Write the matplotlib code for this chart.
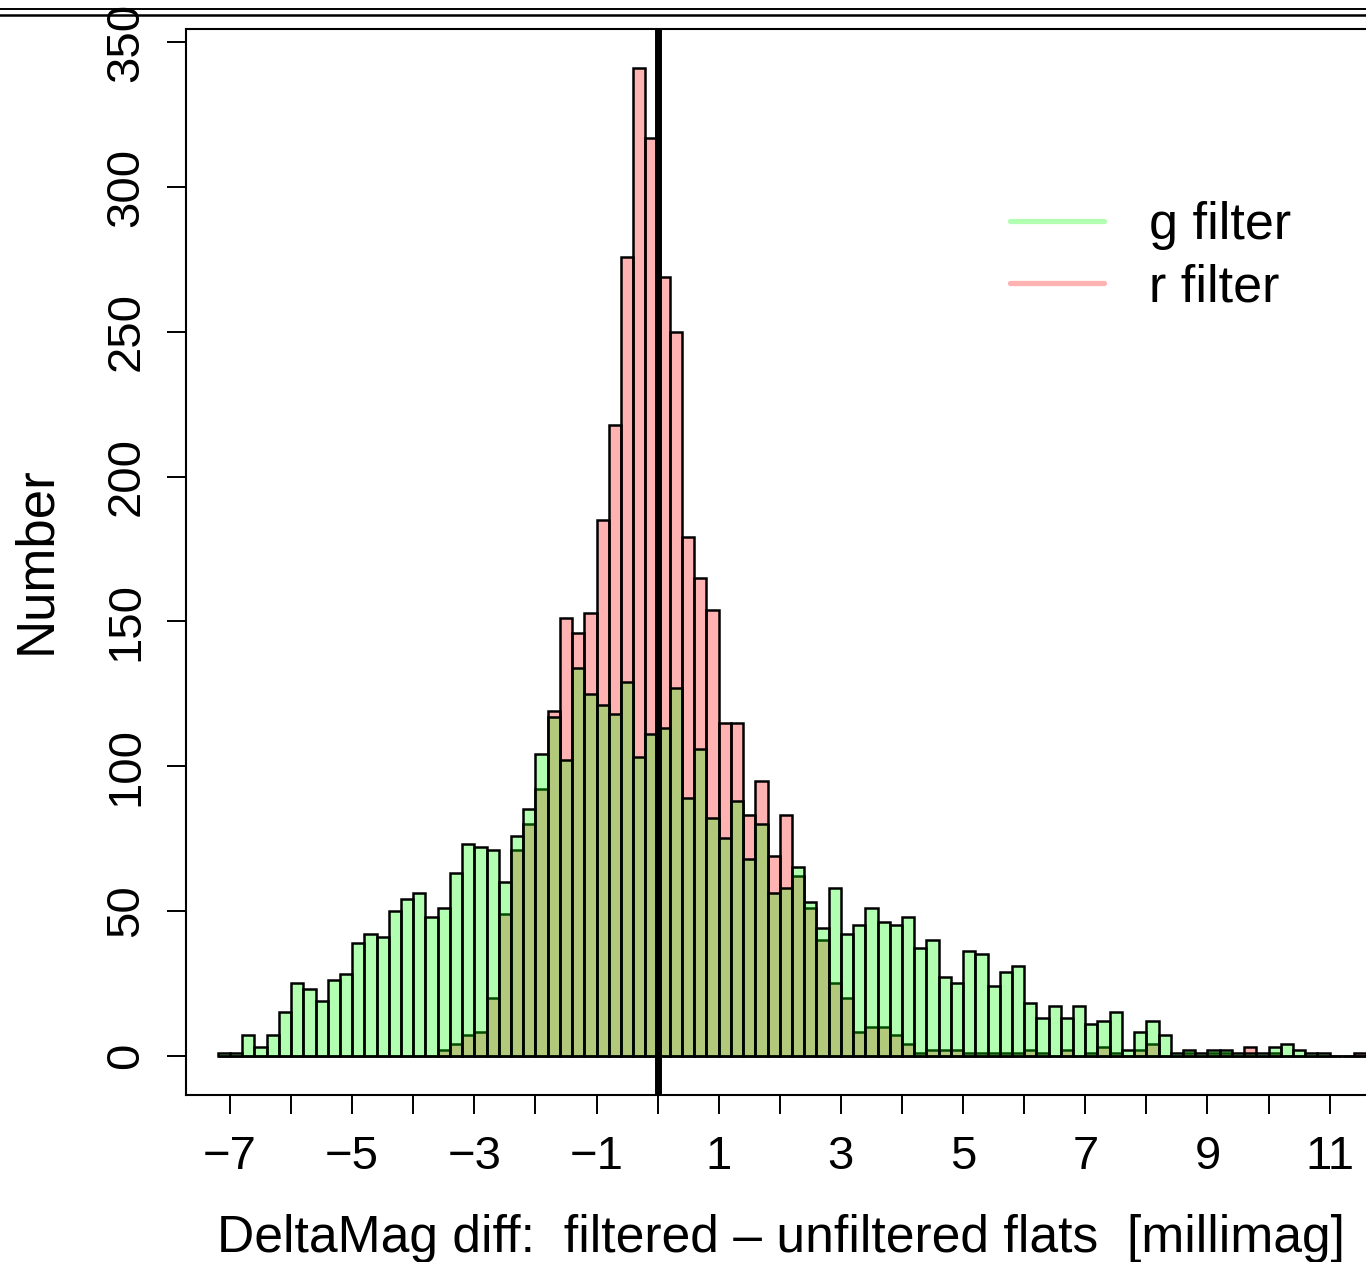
import numpy as np
import matplotlib
matplotlib.use("Agg")
import matplotlib.pyplot as plt
from matplotlib.lines import Line2D

plt.rcParams['font.family'] = ['Liberation Sans', 'DejaVu Sans']

# ---- data (counts per 0.2 millimag bin, bins start at -7.2) ----
bin_width = 0.2
bin_start = -7.2
g_counts = [1, 1, 7, 3, 7, 15, 25, 23, 19, 26, 28, 39, 42, 41, 50, 54, 56, 48,
            51, 63, 73, 72, 71, 60, 76, 85, 104, 117, 102, 134, 125, 121, 118,
            129, 103, 111, 113, 127, 89, 106, 82, 75, 88, 68, 80, 56, 58, 65,
            53, 44, 58, 42, 45, 51, 46, 45, 48, 37, 40, 27, 25, 36, 35, 24, 29,
            31, 18, 13, 17, 13, 17, 11, 12, 15, 2, 8, 12, 7, 1, 2, 1, 2, 2, 1,
            1, 1, 3, 4, 2, 1, 1, 0, 0, 0]
r_counts = [0, 0, 0, 0, 0, 0, 0, 0, 0, 0, 0, 0, 0, 0, 0, 0, 0, 0,
            2, 4, 7, 8, 20, 49, 71, 80, 92, 119, 151, 146, 153, 185, 218,
            276, 341, 317, 269, 250, 179, 165, 154, 115, 115, 83, 95, 69, 83, 62,
            51, 40, 25, 20, 8, 10, 10, 7, 4, 1, 2, 2, 2, 1, 1, 1, 1,
            1, 2, 1, 0, 2, 0, 1, 3, 1, 0, 2, 4, 0, 0, 1, 0, 1, 1, 0,
            3, 0, 1, 0, 0, 0, 0, 0, 0, 1]
labels = ["g filter", "r filter"]
x_ticks = list(range(-7, 12))
x_ticklabels = [("\u2212%d" % -t if t < 0 else "%d" % t) if t % 2 != 0 else "" for t in x_ticks]
y_ticks = [0, 50, 100, 150, 200, 250, 300, 350]
xlabel = "DeltaMag diff:  filtered \u2013 unfiltered flats  [millimag]"
ylabel = "Number"

edges = bin_start + bin_width * np.arange(len(g_counts))

W, H = 1366, 1262
fig = plt.figure(figsize=(W / 100, H / 100), dpi=100)
ax = fig.add_axes([186 / W, (H - 1095) / H, (1373.6 - 186) / W, 1066 / H])

green = (0, 1, 0, 0.3)
red = (1, 0, 0, 0.3)

ax.bar(edges, r_counts, width=bin_width, align='edge', color=red,
       edgecolor='black', linewidth=1.8, zorder=2)
ax.bar(edges, g_counts, width=bin_width, align='edge', color=green,
       edgecolor='black', linewidth=1.8, zorder=3)
ax.axvline(0, color='black', linewidth=5.0, zorder=4)

ax.set_xlim(-7.72, 11.72)
ax.set_ylim(-13.64, 354.64)

ax.set_xticks(x_ticks)
ax.set_xticklabels(x_ticklabels)
ax.set_yticks(y_ticks)
ax.set_yticklabels([str(v) for v in y_ticks], rotation=90, va='center')
ax.tick_params(axis='both', labelsize=34, length=14, width=1.4, direction='out')
ax.tick_params(axis='x', pad=15)
ax.tick_params(axis='y', pad=13)
for s in ax.spines.values():
    s.set_linewidth(1.5)

fig.text(781 / W, 1 - 1252 / H, xlabel, ha='center', va='baseline', fontsize=37.2)
fig.text(36 / W, 1 - 560 / H, ylabel, ha='center', va='center', rotation=90, fontsize=38)

handles = [Line2D([], [], color=green, lw=3.8, solid_capstyle='round'),
           Line2D([], [], color=red, lw=3.8, solid_capstyle='round')]
ax.legend(handles, labels, loc='upper left', bbox_to_anchor=(1010 / W, 1 - 201 / H),
          bbox_transform=fig.transFigure, frameon=False, fontsize=37.5,
          handlelength=1.8, handletextpad=0.86, labelspacing=0.25,
          borderpad=0, borderaxespad=0)

# double rule at the very top of the page
fig.add_artist(Line2D([0, 1], [1 - 9.3 / H, 1 - 9.3 / H], transform=fig.transFigure,
                      color='black', lw=1.4))
fig.add_artist(Line2D([0, 1], [1 - 15.3 / H, 1 - 15.3 / H], transform=fig.transFigure,
                      color='black', lw=1.8))

fig.savefig("out.png", dpi=100)
